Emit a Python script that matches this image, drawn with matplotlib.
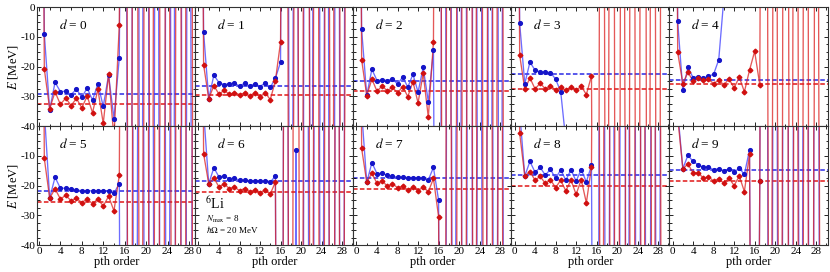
import matplotlib
matplotlib.use('Agg')
import matplotlib.pyplot as plt
from matplotlib.ticker import MultipleLocator

plt.rcParams['font.family'] = ['Liberation Serif', 'DejaVu Serif']
plt.rcParams['mathtext.fontset'] = 'stix'
plt.rcParams['axes.unicode_minus'] = False

# energies per perturbation order (index = order p), blue = circles, red = diamonds
blue_0 = [300, -9.0, -34.6, -25.3, -28.4, -28.3, -29.4, -27.6, -30.3, -27.2, -31.3, -25.8, -33.4, -22.8, -37.5, -17.0,
          250, -400, 600, -300, 450, -500, 350, -650, 400, -300, 700, -450, 300, -550]
red_0 = [300, -20.8, -34.2, -28.5, -32.7, -30.6, -33.1, -30.7, -33.9, -29.9, -35.5, -27.7, -39.1, -22.6, -44.0, -6.0,
         300, -350, 500, -600, 400, -300, 550, -450, 350, -500, 450, -400, 600, -350]
blue_1 = [300, -8.5, -30.8, -22.9, -25.4, -26.1, -25.7, -25.6, -26.5, -25.6, -26.6, -25.7, -26.7, -25.5, -27.0, -23.9, -18.5,
          400, -300, 350, -500, 450, -250, 600, -350, 300, -550, 400, -450, 500]
red_1 = [300, -19.4, -30.8, -26.4, -29.3, -28.0, -29.3, -28.8, -29.4, -28.9, -29.8, -28.8, -30.2, -28.8, -31.1, -24.7, -11.7,
         350, -450, 300, -400, 550, -350, 450, -600, 350, -300, 500, -400, 300]
blue_2 = [300, -7.5, -29.7, -20.9, -24.7, -24.5, -24.7, -24.1, -25.9, -23.5, -26.9, -22.6, -28.6, -20.3, -31.8, -14.4,
          -350, 300, -450, 500, -300, 400, -550, 350, -400, 600, -350, 450, -300, 400]
red_2 = [300, -17.7, -29.8, -24.2, -28.3, -26.5, -28.2, -26.9, -28.9, -26.7, -30.1, -25.1, -32.2, -22.3, -37.1, -11.7,
         400, -350, 300, -500, 450, -400, 350, -300, 550, -450, 400, -350, 500, -400]
blue_3 = [300, -5.4, -25.8, -18.5, -21.2, -21.8, -21.9, -22.0, -24.2, -28.4, -45.0, -300]
red_3 = [300, -16.1, -27.7, -23.8, -27.5, -25.6, -27.5, -26.4, -27.9, -26.8, -28.0, -26.8, -28.0, -26.6, -29.4, -23.1,
         -400, 350, -300, 450, -500, 300, -350, 400, -450, 550, -300, 350, -400, 500]
blue_4 = [300, -4.8, -28.0, -20.3, -23.7, -23.4, -23.9, -23.2, -22.6, -17.7, 3.0, 80.0]
red_4 = [300, -15.2, -25.7, -21.9, -24.9, -23.9, -24.5, -24.3, -25.7, -24.6, -26.1, -24.2, -27.2, -23.5, -28.5, -21.2,
         -14.9, -26.1, 400, -350, 300, -450, 500, -300, 350, -400, 450, -550, 300, -350]
blue_5 = [300, 5.0, -24.2, -17.2, -20.9, -20.9, -21.1, -21.5, -21.7, -21.7, -21.8, -21.8, -21.8, -21.7, -22.5, -19.4,
          -450, 400, -350, 500, -400, 300, -550, 450, -300, 350, -500, 400, -450, 300]
red_5 = [300, -10.9, -24.2, -21.1, -24.5, -23.3, -25.1, -24.3, -25.7, -24.5, -26.1, -24.5, -26.9, -23.6, -28.5, -16.6,
         350, -400, 450, -300, 400, -500, 350, -450, 550, -350, 300, -400, 500, -350]
blue_6 = [300, 5.0, -19.4, -14.0, -17.1, -16.8, -17.7, -17.5, -18.2, -18.2, -18.5, -18.5, -18.5, -18.5, -18.8, -16.8,
          -500, 400, -450, -8.2, -400, 350, -500, 450, -300, 400, -550, 350, -400, 500]
red_6 = [300, -9.3, -19.4, -17.4, -20.5, -19.4, -21.0, -20.5, -21.7, -21.0, -22.0, -21.5, -22.5, -21.4, -22.8, -18.8,
         -450, 350, -400, 500, -350, 450, -300, 400, -500, 350, -450, 300, -400, 450]
blue_7 = [300, 5.0, -18.9, -12.3, -16.0, -15.8, -16.6, -16.8, -17.2, -17.2, -17.3, -17.3, -17.6, -17.3, -18.1, -13.9, -24.9,
          -400, 350, -300, 450, -500, 400, -350, 300, -450, 550, -400, 350, -300]
red_7 = [300, -7.5, -18.9, -15.8, -19.3, -18.4, -20.2, -19.4, -20.7, -20.2, -21.4, -20.6, -21.7, -20.5, -22.1, -17.6, -30.5,
         -350, 400, -450, 300, -400, 500, -350, 450, -300, 400, -500, 350, -450]
blue_8 = [300, 5.0, -16.8, -11.9, -15.5, -13.9, -16.5, -14.5, -17.6, -14.7, -18.2, -14.7, -18.5, -14.6, -18.8, -13.2,
          -400, 450, -350, 300, -500, 400, -300, 550, -450, 350, -400, 300, -350, 500]
red_8 = [300, -2.4, -16.8, -15.3, -18.2, -16.9, -19.3, -18.0, -20.7, -18.2, -21.8, -18.1, -23.0, -18.0, -25.8, -13.7,
         350, -300, 450, -400, 350, -550, 300, -400, 450, -350, 500, -300, 400, -450]
blue_9 = [300, 5.0, -14.3, -9.8, -11.9, -13.0, -13.9, -13.7, -14.7, -14.3, -15.0, -14.5, -15.4, -14.2, -16.2, -8.0,
          -300, -18.5, 400, -350, 300, -450, 500, -400, 350, -300, 450, -500, 400, -350]
red_9 = [300, 3.0, -14.3, -12.8, -15.7, -15.7, -17.5, -17.0, -18.5, -17.7, -19.2, -17.5, -20.0, -16.8, -22.0, -9.5,
         -350, -18.6, 450, -300, 400, -350, 500, -450, 300, -400, 350, -500, 450, -300]

# dashed reference energies for each d
blue_ref = [-29.1, -26.4, -25.0, -22.6, -24.4, -21.9, -18.5, -17.4, -16.5, -14.8]
red_ref = [-32.5, -29.6, -28.2, -27.7, -25.7, -25.5, -22.0, -21.1, -20.2, -18.6]

blues = [blue_0, blue_1, blue_2, blue_3, blue_4, blue_5, blue_6, blue_7, blue_8, blue_9]
reds = [red_0, red_1, red_2, red_3, red_4, red_5, red_6, red_7, red_8, red_9]

BLUE = '#1414c8'
RED = '#d01010'

fig, axes = plt.subplots(2, 5, figsize=(8.3, 2.72), dpi=100)
fig.subplots_adjust(left=0.045, right=0.997, top=0.974, bottom=0.099, wspace=0, hspace=0)

for d, ax in enumerate(axes.flat):
    row, col = divmod(d, 5)
    b = blues[d]
    r = reds[d]

    ax.axhline(blue_ref[d], color='#2a2ae6', ls=(0, (3, 1.5)), lw=1.1, zorder=1)
    ax.axhline(red_ref[d], color='#e01818', ls=(0, (3, 1.5)), lw=1.1, zorder=1)

    ax.plot(range(len(b)), b, '-', color='#3c3cff', lw=0.95, alpha=0.75, zorder=2)
    ax.plot(range(len(r)), r, '-', color='#dc2020', lw=0.95, alpha=0.75, zorder=2)
    ax.plot(range(len(b)), b, 'o', color=BLUE, ms=2.7, zorder=3)
    ax.plot(range(len(r)), r, 'D', color=RED, ms=2.4, zorder=4)

    ax.set_ylim(-40, 0)
    if col == 0:
        ax.set_xlim(-0.3, 29.2)
    else:
        ax.set_xlim(-0.6, 30.2)

    ax.xaxis.set_major_locator(MultipleLocator(4))
    ax.xaxis.set_minor_locator(MultipleLocator(2))
    ax.set_yticks([-40, -30, -20, -10, 0])
    ax.yaxis.set_minor_locator(MultipleLocator(2.5))
    if row == 1:
        ax.set_yticklabels(['-40', '-30', '-20', '-10', ''])
    ax.tick_params(which='both', direction='in', top=True, right=True, labelsize=8,
                   width=0.6, pad=1.5)
    ax.tick_params(which='major', length=3)
    ax.tick_params(which='minor', length=1.8)
    ax.tick_params(labelleft=(col == 0), labelbottom=(row == 1))
    for s in ax.spines.values():
        s.set_linewidth(0.8)
        s.set_color('#333333')

    ax.text(0.135, 0.85, '$d$ = %d' % d, transform=ax.transAxes, fontsize=9.5,
            ha='left', va='center')

    if col == 0:
        ax.set_ylabel('$E$ [MeV]', fontsize=9, labelpad=0)
    if row == 1:
        ax.set_xlabel('pth order', fontsize=9, labelpad=0)

# nucleus / model space note
axes[1, 1].text(1.3, -26.2, '$^{6}$Li', fontsize=10, ha='left', va='center')
axes[1, 1].text(1.4, -31.3, '$N_{\\rm max}$ = 8', fontsize=6.5, ha='left', va='center')
axes[1, 1].text(1.4, -34.9, '$\\hbar\\Omega$ = 20 MeV', fontsize=6.5, ha='left', va='center')

plt.savefig('out.png', dpi=100)
